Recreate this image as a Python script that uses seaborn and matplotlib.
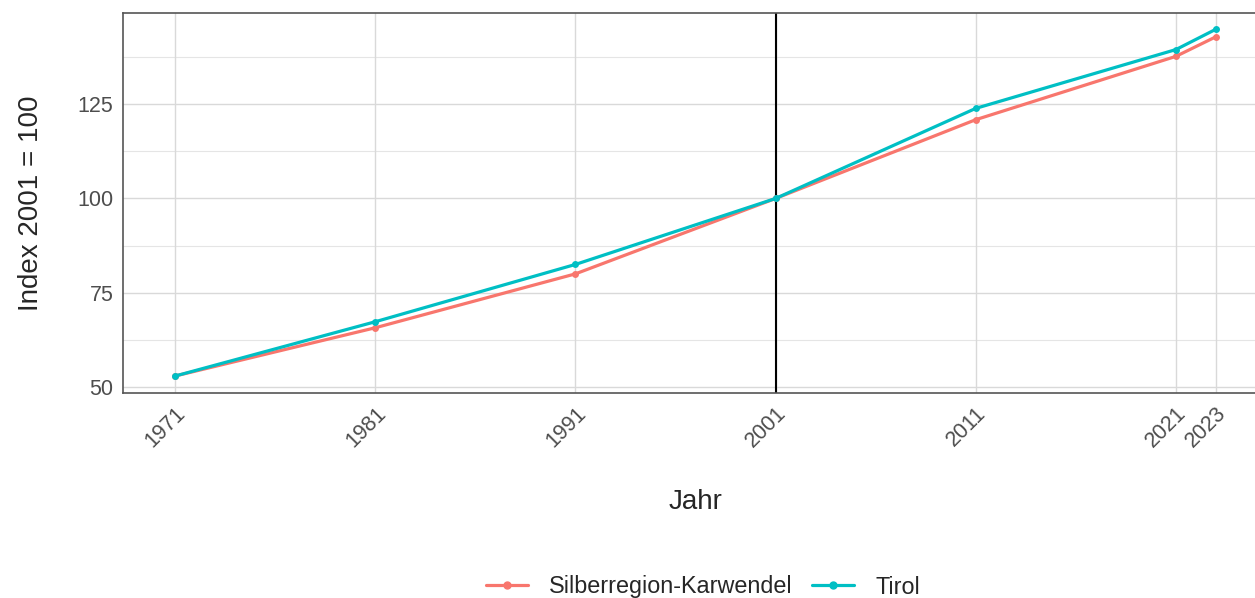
import matplotlib.pyplot as plt
import pandas as pd
import seaborn as sns

years = [1971, 1981, 1991, 2001, 2011, 2021, 2023]
silberregion = [52.9, 65.7, 80.0, 100.0, 120.9, 137.7, 142.9]
tirol = [52.9, 67.3, 82.5, 100.0, 123.9, 139.5, 144.9]
regions = ["Silberregion-Karwendel", "Tirol"]
colors = ["#F8766D", "#00BFC4"]

df = pd.DataFrame({
    "Jahr": years * 2,
    "Index": silberregion + tirol,
    "Region": [regions[0]] * len(years) + [regions[1]] * len(years),
})

sns.set_style("white")
plt.rcParams["font.family"] = ["Liberation Sans", "DejaVu Sans"]

fig = plt.figure(figsize=(12.55, 5.98), dpi=100)
ax = fig.add_axes([123 / 1255, 1 - 393 / 598, 1145 / 1255, 380 / 598])

# grid
for y in [50, 75, 100, 125]:
    ax.axhline(y, color="#d9d9d9", lw=1.0, zorder=0)
for y in [62.5, 87.5, 112.5, 137.5]:
    ax.axhline(y, color="#e5e5e5", lw=0.8, zorder=0)
for x in years:
    ax.axvline(x, color="#d9d9d9", lw=1.0, zorder=0)
ax.axvline(2001, color="black", lw=1.5, zorder=1)

sns.lineplot(data=df, x="Jahr", y="Index", hue="Region", palette=colors,
             marker="o", markersize=5, markeredgewidth=0, linewidth=2.3,
             ax=ax, legend=False, zorder=3)

ax.set_xlim(1968.4, 2025.6)
ax.set_ylim(48.4, 149.2)
ax.set_xticks(years)
ax.set_xticklabels([str(y) for y in years], rotation=45, ha="right",
                   rotation_mode="anchor", fontsize=15.5, color="#4d4d4d")
ax.set_yticks([50, 75, 100, 125])
ax.set_yticklabels(["50", "75", "100", "125"], fontsize=15.5, color="#4d4d4d")
ax.tick_params(axis="both", length=4, color="#333333", width=1, pad=3)
ax.set_xlabel("Jahr", fontsize=20, labelpad=27)
ax.set_ylabel("Index 2001 = 100", fontsize=20, labelpad=24)

for side in ["top", "left", "bottom"]:
    ax.spines[side].set_color("#555555")
    ax.spines[side].set_linewidth(1.2)
ax.spines["right"].set_visible(False)

handles = [plt.Line2D([], [], color=c, marker="o", markersize=5, lw=2.3)
           for c in colors]
fig.legend(handles, regions, loc="center", bbox_to_anchor=(703 / 1255, 1 - 587 / 598),
           ncol=2, frameon=False, fontsize=16.8, handlelength=1.8,
           handletextpad=0.9, columnspacing=0.85)

fig.savefig("out.png", dpi=100)
